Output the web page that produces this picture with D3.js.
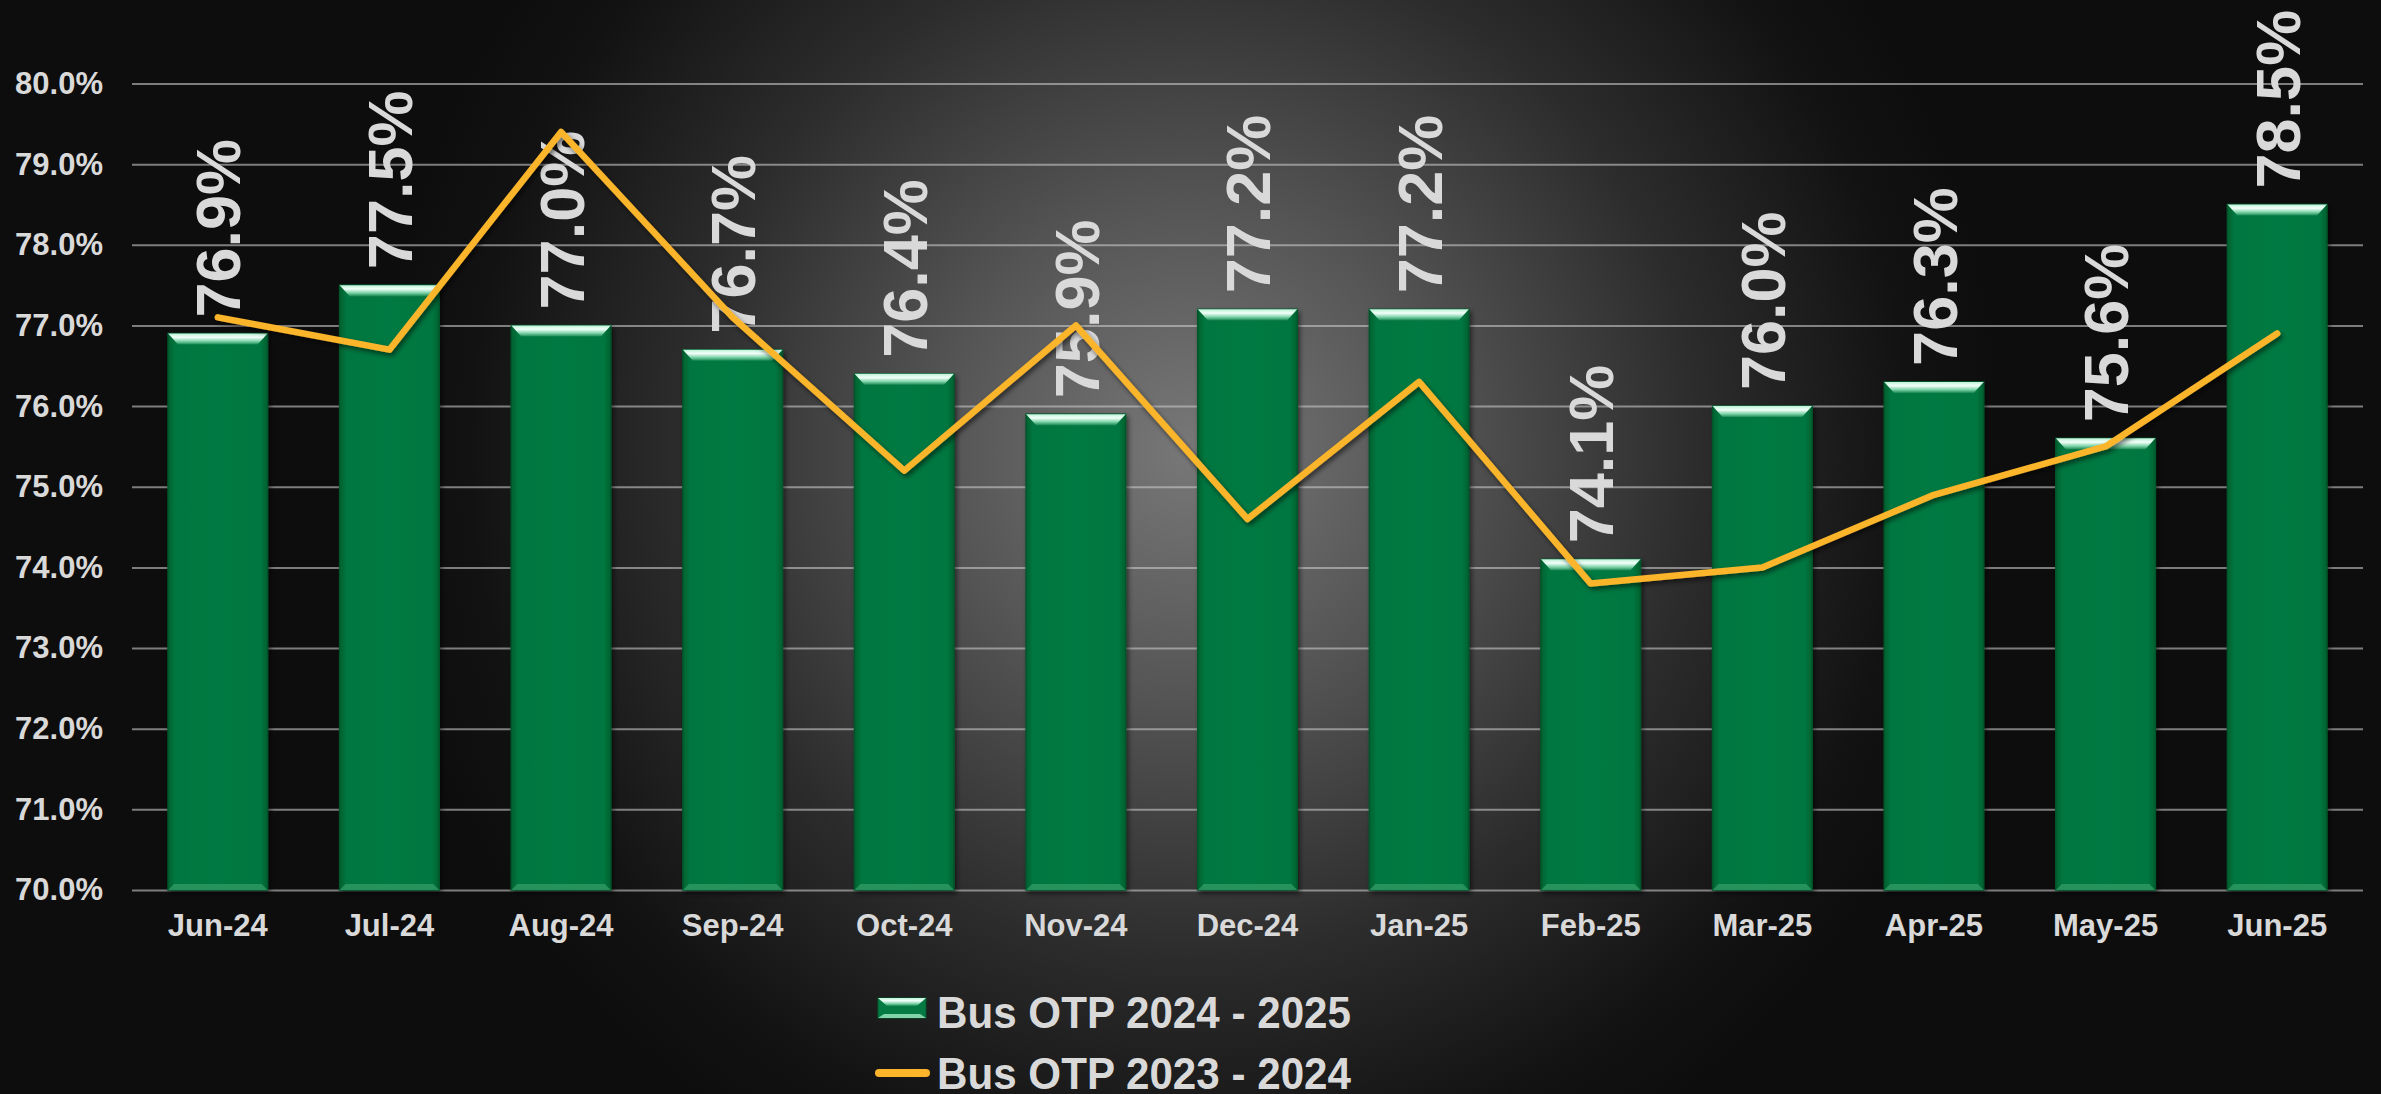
<!DOCTYPE html>
<html>
<head>
<meta charset="utf-8">
<script src="https://cdn.jsdelivr.net/npm/d3@7.9.0/dist/d3.min.js"></script>
<style>
  html, body { margin: 0; padding: 0; background: #0d0d0d; }
  svg { display: block; font-family: "Liberation Sans", Arial, sans-serif; font-weight: bold; }
</style>
</head>
<body>
<svg id="chart" width="2381" height="1094"></svg>
<script>
// Data
const months = ['Jun-24', 'Jul-24', 'Aug-24', 'Sep-24', 'Oct-24', 'Nov-24', 'Dec-24',
                'Jan-25', 'Feb-25', 'Mar-25', 'Apr-25', 'May-25', 'Jun-25'];
const otp2425 = [76.9, 77.5, 77.0, 76.7, 76.4, 75.9, 77.2, 77.2, 74.1, 76.0, 76.3, 75.6, 78.5];
const otp2324 = [77.1, 76.7, 79.4, 77.1, 75.2, 77.0, 74.6, 76.3, 73.8, 74.0, 74.9, 75.5, 76.9];
const yTicks = [70, 71, 72, 73, 74, 75, 76, 77, 78, 79, 80];
const seriesNames = ['Bus OTP 2024 - 2025', 'Bus OTP 2023 - 2024'];

const W = 2381, H = 1094;
const svg = d3.select('#chart');
const defs = svg.append('defs');

// spotlight background
const bg = defs.append('radialGradient').attr('id', 'bg')
  .attr('gradientUnits', 'userSpaceOnUse')
  .attr('cx', 1190).attr('cy', 450).attr('r', 820);
[[0, '#787878'], [0.3, '#555555'], [0.62, '#2c2c2c'], [0.88, '#121212'], [1, '#0d0d0d']]
  .forEach(([o, c]) => bg.append('stop').attr('offset', o).attr('stop-color', c));

// bar shading
const body = defs.append('linearGradient').attr('id', 'barBody').attr('x1', 0).attr('x2', 1).attr('y1', 0).attr('y2', 0);
[[0, '#04612f'], [0.07, '#06763f'], [0.5, '#057a42'], [0.93, '#06763f'], [1, '#04612f']]
  .forEach(([o, c]) => body.append('stop').attr('offset', o).attr('stop-color', c));
const bevel = defs.append('linearGradient').attr('id', 'barTop').attr('x1', 0).attr('x2', 0).attr('y1', 0).attr('y2', 1);
[[0, '#bdf2d8'], [0.35, '#f2fff9'], [0.7, '#7fd4aa'], [1, '#1a8a54']]
  .forEach(([o, c]) => bevel.append('stop').attr('offset', o).attr('stop-color', c));

defs.append('filter').attr('id', 'blur').attr('x', '-5%').attr('y', '-300%').attr('width', '110%').attr('height', '700%')
  .append('feGaussianBlur').attr('stdDeviation', 2.6);
const sh = defs.append('filter').attr('id', 'shadow').attr('x', '-10%').attr('y', '-10%').attr('width', '120%').attr('height', '120%');
sh.append('feDropShadow').attr('dx', 2).attr('dy', 3).attr('stdDeviation', 2.5)
  .attr('flood-color', '#000').attr('flood-opacity', 0.55);

svg.append('rect').attr('width', W).attr('height', H).attr('fill', 'url(#bg)');

// scales
const x = d3.scaleBand().domain(months).range([132, 2363]).paddingInner(0.42).paddingOuter(0.21);
const y = d3.scaleLinear().domain([70, 80]).range([890, 83.5]);
const bw = x.bandwidth();

// gridline glow band under each gridline
svg.append('g').selectAll('line').data(yTicks).join('line')
  .attr('x1', 132).attr('x2', 2363)
  .attr('y1', d => y(d) + 10).attr('y2', d => y(d) + 10)
  .attr('stroke', 'rgba(170,170,170,0.38)').attr('stroke-width', 7)
  .attr('filter', 'url(#blur)');

// y axis with gridlines
const yAxis = svg.append('g').attr('transform', 'translate(132,0)')
  .call(d3.axisLeft(y).tickValues(yTicks).tickSize(-(2363 - 132)).tickPadding(29)
    .tickFormat(d => d.toFixed(1) + '%'));
yAxis.select('.domain').remove();
yAxis.selectAll('.tick line').attr('stroke', 'rgba(200,200,200,0.6)').attr('stroke-width', 2);
yAxis.selectAll('.tick text').attr('fill', '#d9d9d9').attr('font-size', 31)
  .attr('font-family', '"Liberation Sans", Arial, sans-serif').attr('font-weight', 'bold');

// x axis labels
const xAxis = svg.append('g').attr('transform', 'translate(0,890)')
  .call(d3.axisBottom(x).tickSize(0).tickPadding(24));
xAxis.select('.domain').remove();
xAxis.selectAll('.tick text').attr('fill', '#d9d9d9').attr('font-size', 31)
  .attr('font-family', '"Liberation Sans", Arial, sans-serif').attr('font-weight', 'bold');

// bars
const bars = svg.append('g').selectAll('g').data(otp2425).join('g')
  .attr('filter', 'url(#shadow)');
bars.append('rect')
  .attr('x', (d, i) => x(months[i])).attr('y', d => y(d))
  .attr('width', bw).attr('height', d => y(70) - y(d))
  .attr('fill', 'url(#barBody)').attr('stroke', '#04572c').attr('stroke-width', 1.5);
bars.append('path')
  .attr('d', (d, i) => {
    const x0 = x(months[i]), t = y(d);
    return `M${x0},${t}H${x0 + bw}L${x0 + bw - 10},${t + 11}H${x0 + 10}Z`;
  })
  .attr('fill', 'url(#barTop)');
bars.append('path')
  .attr('d', (d, i) => {
    const x0 = x(months[i]), b = y(70);
    return `M${x0 + 6},${b - 6}H${x0 + bw - 6}L${x0 + bw},${b}H${x0}Z`;
  })
  .attr('fill', '#2f9a63').attr('opacity', 0.8);

// value labels
svg.append('g').selectAll('text').data(otp2425).join('text')
  .attr('transform', (d, i) => `translate(${x(months[i]) + bw / 2},${y(d) - 16}) rotate(-90)`)
  .attr('dy', '0.36em')
  .attr('fill', '#d9d9d9').attr('font-size', 63)
  .text(d => d.toFixed(1) + '%');

// 2023-2024 line
const line = d3.line().x((d, i) => x(months[i]) + bw / 2).y(d => y(d));
svg.append('path').datum(otp2324)
  .attr('d', line)
  .attr('fill', 'none').attr('stroke', '#fbb52b').attr('stroke-width', 6.5)
  .attr('stroke-linejoin', 'round').attr('stroke-linecap', 'round')
  .attr('filter', 'url(#shadow)');

// legend
const lg = svg.append('g');
lg.append('rect').attr('x', 878).attr('y', 998).attr('width', 48).attr('height', 20)
  .attr('fill', '#057a42').attr('stroke', '#04572c');
lg.append('path').attr('d', 'M878,998H926L917,1006H887Z').attr('fill', 'url(#barTop)');
lg.append('path').attr('d', 'M884,1014H920L926,1018H878Z').attr('fill', '#7fd4aa');
lg.append('line').attr('x1', 879).attr('x2', 926).attr('y1', 1073).attr('y2', 1073)
  .attr('stroke', '#fbb52b').attr('stroke-width', 8).attr('stroke-linecap', 'round');
lg.selectAll('text').data(seriesNames).join('text')
  .attr('x', 937).attr('y', (d, i) => 1028 + i * 61)
  .attr('fill', '#d9d9d9').attr('font-size', 45)
  .attr('textLength', 414).attr('lengthAdjust', 'spacingAndGlyphs')
  .text(d => d);
</script>
</body>
</html>
